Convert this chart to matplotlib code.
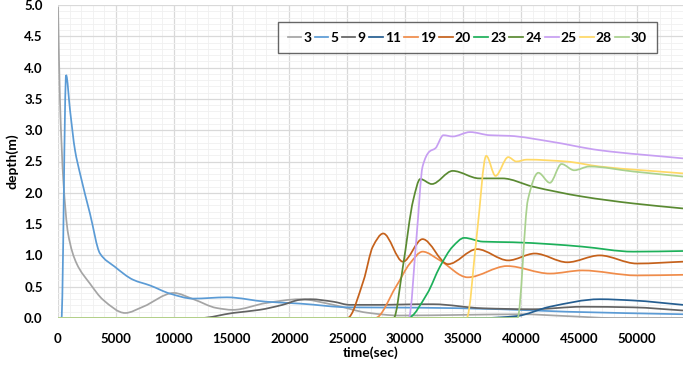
import numpy as np
import matplotlib.pyplot as plt
from matplotlib.path import Path
from matplotlib.patches import PathPatch
from matplotlib.lines import Line2D
from matplotlib.ticker import MultipleLocator

plt.rcParams['font.family'] = ['Lato', 'DejaVu Sans']
plt.rcParams['font.weight'] = 'bold'

# gauge readings, time (sec) / depth (m)
t_3 = [0, 170, 460, 870, 1610, 2760, 3900, 5800, 7350, 10000, 11700, 13700, 15100,
       18000, 20900, 23800, 26700, 29500, 35000, 40000, 44000, 48000, 54000]
d_3 = [4.97, 3.48, 2.2, 1.35, 0.87, 0.55, 0.29, 0.08, 0.18, 0.40, 0.30, 0.16, 0.13,
       0.24, 0.30, 0.21, 0.085, 0.04, 0.05, 0.06, 0.03, 0.0, 0.0]

t_5 = [0, 300, 700, 1040, 1470, 1900, 2760, 3630, 4900, 6500, 7950, 9670, 11660,
       14600, 18000, 20900, 25200, 31000, 38200, 44000, 54000]
d_5 = [0, 0, 3.88, 3.32, 2.68, 2.31, 1.67, 1.03, 0.82, 0.61, 0.52, 0.39, 0.31,
       0.33, 0.26, 0.23, 0.17, 0.165, 0.14, 0.10, 0.06]

t_9 = [0, 12300, 15100, 17400, 19400, 20900, 21800, 23800, 25200, 28100, 31000,
       32400, 36700, 41000, 45300, 49700, 54000]
d_9 = [0, 0, 0.08, 0.13, 0.21, 0.29, 0.30, 0.26, 0.21, 0.21, 0.22,
       0.22, 0.155, 0.14, 0.18, 0.17, 0.12]

t_11 = [0, 20000, 36700, 39600, 42500, 46800, 49700, 54000]
d_11 = [0, 0, 0, 0.03, 0.18, 0.30, 0.28, 0.21]

t_19 = [0, 27400, 29200, 30400, 31500, 33000, 35400, 38800, 42500, 45300, 50000, 54000]
d_19 = [0, 0, 0.5, 0.87, 1.06, 0.92, 0.65, 0.83, 0.71, 0.76, 0.68, 0.69]

t_20 = [0, 25000, 26400, 27200, 28100, 29800, 31500, 33700, 36200, 38900, 41200,
        44000, 46800, 50000, 54000]
d_20 = [0, 0, 0.6, 1.14, 1.35, 0.9, 1.26, 0.86, 1.10, 0.92, 1.03,
        0.89, 1.0, 0.87, 0.9]

t_23 = [0, 30200, 31900, 33000, 34100, 35100, 36700, 39300, 42500, 45300, 49700, 54000]
d_23 = [0, 0, 0.39, 0.82, 1.14, 1.28, 1.22, 1.21, 1.18, 1.14, 1.06, 1.07]

t_24 = [0, 29000, 29800, 30700, 31300, 32300, 34100, 36400, 38400, 41000, 45300, 49700, 54000]
d_24 = [0, 0, 0.82, 1.89, 2.22, 2.14, 2.35, 2.23, 2.23, 2.10, 1.94, 1.83, 1.75]

t_25 = [0, 30300, 31000, 31500, 32100, 32600, 33300, 34100, 35600, 37300, 39000,
        42500, 46800, 54000]
d_25 = [0, 0, 1.35, 2.42, 2.66, 2.71, 2.92, 2.9, 2.97, 2.92, 2.91,
        2.82, 2.68, 2.55]

t_28 = [0, 35300, 36200, 37000, 37800, 38900, 39600, 40500, 43900, 46800, 54000]
d_28 = [0, 0, 1.35, 2.59, 2.27, 2.57, 2.5, 2.53, 2.5, 2.42, 2.31]

t_30 = [0, 39700, 40600, 41500, 42500, 43500, 44600, 45900, 49700, 54000]
d_30 = [0, 0, 1.89, 2.32, 2.16, 2.46, 2.36, 2.42, 2.34, 2.26]

names = ['3', '5', '9', '11', '19', '20', '23', '24', '25', '28', '30']
times = [t_3, t_5, t_9, t_11, t_19, t_20, t_23, t_24, t_25, t_28, t_30]
depths = [d_3, d_5, d_9, d_11, d_19, d_20, d_23, d_24, d_25, d_28, d_30]
colors = ['#a5a5a5', '#5b9bd5', '#636363', '#255e91', '#f08c4a', '#c5611b',
          '#1db05a', '#5a8a32', '#c79ff2', '#ffd966', '#a9d18e']


def smooth_path(x, y):
    """Cubic Bezier path through the points (like Excel's smoothed line)."""
    x = np.asarray(x, float)
    y = np.asarray(y, float)
    h = np.diff(x)
    d = np.diff(y) / h
    m = np.zeros_like(y)
    for i in range(1, len(x) - 1):
        if d[i - 1] * d[i] > 0:
            w1 = 2 * h[i] + h[i - 1]
            w2 = h[i] + 2 * h[i - 1]
            m[i] = (w1 + w2) / (w1 / d[i - 1] + w2 / d[i])
    m[0] = d[0]
    m[-1] = d[-1]
    verts = [(x[0], y[0])]
    codes = [Path.MOVETO]
    for i in range(len(x) - 1):
        verts += [(x[i] + h[i] / 3, y[i] + m[i] * h[i] / 3),
                  (x[i + 1] - h[i] / 3, y[i + 1] - m[i + 1] * h[i] / 3),
                  (x[i + 1], y[i + 1])]
        codes += [Path.CURVE4] * 3
    return Path(verts, codes)


fig = plt.figure(figsize=(6.85, 3.66), dpi=100)
ax = fig.add_axes([58 / 685, 1 - 318 / 366, 625 / 685, 313 / 366])

handles = []
for name, t, dep, c in zip(names, times, depths, colors):
    ax.add_patch(PathPatch(smooth_path(t, dep), facecolor='none', edgecolor=c,
                           lw=1.25, zorder=3))
    handles.append(Line2D([], [], color=c, lw=1.25, label=name))

ax.set_xlim(0, 54000)
ax.set_ylim(0, 5.0)
ax.xaxis.set_major_locator(MultipleLocator(5000))
ax.xaxis.set_minor_locator(MultipleLocator(1000))
ax.yaxis.set_major_locator(MultipleLocator(0.5))
ax.yaxis.set_minor_locator(MultipleLocator(0.1))
ax.yaxis.set_major_formatter(plt.FormatStrFormatter('%.1f'))
ax.grid(which='major', color='#d9d9d9', lw=0.9, zorder=0)
ax.grid(which='minor', color='#f0f0f0', lw=0.6, zorder=0)
ax.set_axisbelow(True)
for s in ax.spines.values():
    s.set_visible(False)
ax.tick_params(which='both', length=0)
ax.tick_params(axis='x', labelsize=9.5, pad=11, colors='black')
ax.tick_params(axis='y', labelsize=9.5, pad=11, colors='black')

ax.set_xlabel('time(sec)', fontsize=10, fontweight='bold', labelpad=1)
ax.set_ylabel('depth(m)', fontsize=10, fontweight='bold', labelpad=4)

leg = ax.legend(handles=handles, ncol=11, loc='upper right',
                bbox_to_anchor=(0.958, 0.946), borderaxespad=0,
                fontsize=10, handlelength=1.0, handletextpad=0.15,
                columnspacing=0.22, frameon=True, fancybox=False,
                borderpad=0.7)
leg.get_frame().set_edgecolor('#404040')
leg.get_frame().set_linewidth(1.0)
for txt in leg.get_texts():
    txt.set_fontweight('bold')

fig.savefig('out.png', dpi=100)
